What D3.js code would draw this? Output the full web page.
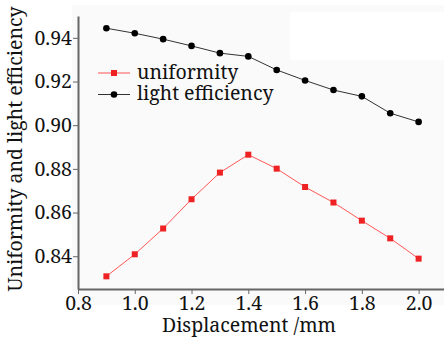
<!DOCTYPE html>
<html>
<head>
<meta charset="utf-8">
<script src="https://cdn.jsdelivr.net/npm/d3@7"></script>
</head>
<body style="margin:0; background:#fff">
<svg id="chart" width="444" height="338"></svg>
<script>
// displacement (mm)
var displacement = [0.9, 1.0, 1.1, 1.2, 1.3, 1.4, 1.5, 1.6, 1.7, 1.8, 1.9, 2.0];
var uniformity = [0.8308, 0.8409, 0.8527, 0.8661, 0.8783, 0.8865, 0.8801, 0.8717, 0.8646, 0.8563, 0.8482, 0.8389];
var lightEfficiency = [0.9444, 0.9421, 0.9394, 0.9363, 0.9330, 0.9315, 0.9253, 0.9205, 0.9161, 0.9132, 0.9055, 0.9015];
var xTicks = [0.8, 1.0, 1.2, 1.4, 1.6, 1.8, 2.0];
var yTicks = [0.84, 0.86, 0.88, 0.90, 0.92, 0.94];

var margin = {top: 16, right: 0, bottom: 49, left: 78};
var width = 444, height = 338;
var font = "'Noto Serif', 'Liberation Serif', serif";
var fs = "19.5px";

var svg = d3.select("#chart");

// faint grey backdrop of the original figure
svg.append("rect").attr("x", 72).attr("y", 5).attr("width", 372).attr("height", 300).attr("fill", "#fafafa");
svg.append("rect").attr("x", 290).attr("y", 12).attr("width", 154).attr("height", 48).attr("fill", "#fff");

var x = d3.scaleLinear().domain([0.8, 2.1]).range([margin.left, margin.left + 369]);
var y = d3.scaleLinear().domain([0.825, 0.95]).range([height - margin.bottom, margin.top]);

var xAxis = svg.append("g")
    .attr("transform", "translate(0," + y(0.825) + ")")
    .call(d3.axisBottom(x).tickValues(xTicks).tickFormat(d3.format(".1f")).tickSize(5).tickPadding(2.5).tickSizeOuter(0));

var yAxis = svg.append("g")
    .attr("transform", "translate(" + margin.left + ",0)")
    .call(d3.axisLeft(y).tickValues(yTicks).tickFormat(d3.format(".2f")).tickSize(5).tickPadding(1).tickSizeOuter(0));

[xAxis, yAxis].forEach(function(ax) {
    ax.select(".domain").attr("stroke", "#666").attr("stroke-width", 2);
    ax.selectAll(".tick line").attr("stroke", "#666");
    ax.selectAll("text").style("font-family", font).style("font-size", fs).attr("fill", "#111");
});

// axis titles
svg.append("text")
    .attr("x", 249).attr("y", 332)
    .attr("text-anchor", "middle")
    .style("font-family", font).style("font-size", fs).attr("fill", "#111")
    .text("Displacement /mm");

svg.append("text")
    .attr("transform", "translate(22,149) rotate(-90)")
    .attr("text-anchor", "middle")
    .style("font-family", font).style("font-size", fs).attr("fill", "#111")
    .text("Uniformity and light efficiency");

// lines
var line = d3.line()
    .x(function(d) { return x(d[0]); })
    .y(function(d) { return y(d[1]); });

var uniData = d3.zip(displacement, uniformity);
var effData = d3.zip(displacement, lightEfficiency);

svg.append("path").datum(uniData)
    .attr("d", line).attr("fill", "none")
    .attr("stroke", "#f55").attr("stroke-width", 1);
svg.append("path").datum(effData)
    .attr("d", line).attr("fill", "none")
    .attr("stroke", "#333").attr("stroke-width", 1);

svg.selectAll(".uni").data(uniData).enter().append("rect")
    .attr("class", "uni")
    .attr("x", function(d) { return x(d[0]) - 3; })
    .attr("y", function(d) { return y(d[1]) - 3; })
    .attr("width", 6).attr("height", 6)
    .attr("fill", "#ee2222");

svg.selectAll(".eff").data(effData).enter().append("circle")
    .attr("class", "eff")
    .attr("cx", function(d) { return x(d[0]); })
    .attr("cy", function(d) { return y(d[1]); })
    .attr("r", 3.3)
    .attr("fill", "#000");

// legend
var legend = svg.append("g").attr("transform", "translate(98,73)");
var items = [
    {name: "uniformity", stroke: "#f55", fill: "#ee2222", shape: "square"},
    {name: "light efficiency", stroke: "#333", fill: "#000", shape: "circle"}
];
items.forEach(function(it, i) {
    var g = legend.append("g").attr("transform", "translate(0," + (i * 21.5) + ")");
    g.append("line").attr("x1", 0).attr("x2", 32).attr("y1", 0).attr("y2", 0)
        .attr("stroke", it.stroke).attr("stroke-width", 1);
    if (it.shape === "square") {
        g.append("rect").attr("x", 13).attr("y", -3).attr("width", 6).attr("height", 6).attr("fill", it.fill);
    } else {
        g.append("circle").attr("cx", 16).attr("cy", 0).attr("r", 3.3).attr("fill", it.fill);
    }
    g.append("text").attr("x", 39).attr("y", 0).attr("dy", "0.3em")
        .style("font-family", font).style("font-size", fs).attr("fill", "#111")
        .text(it.name);
});
</script>
</body>
</html>
